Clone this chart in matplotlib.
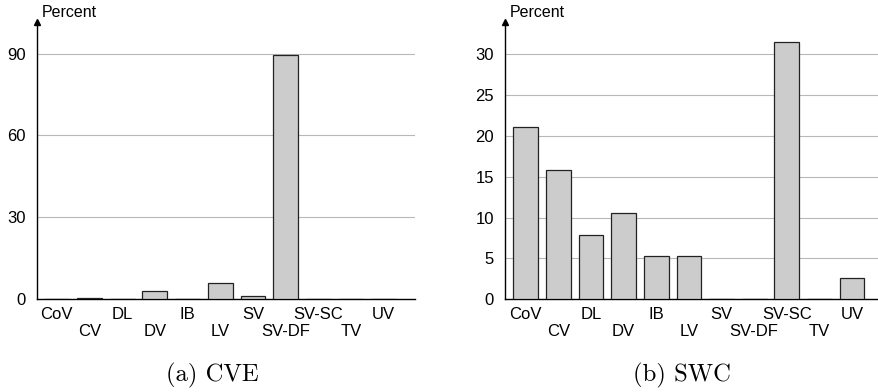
import matplotlib
matplotlib.use("Agg")
import matplotlib.pyplot as plt

categories = ["CoV", "CV", "DL", "DV", "IB", "LV", "SV", "SV-DF", "SV-SC", "TV", "UV"]
cve_values = [0.0, 0.3, 0.0, 2.8, 0.0, 5.9, 1.2, 89.5, 0.0, 0.0, 0.0]
swc_values = [21.05, 15.79, 7.89, 10.53, 5.26, 5.26, 0.0, 0.0, 31.58, 0.0, 2.63]
cve_ticks = [0, 30, 60, 90]
swc_ticks = [0, 5, 10, 15, 20, 25, 30]

plt.rcParams["font.family"] = ["Liberation Sans", "DejaVu Sans"]

fig = plt.figure(figsize=(8.79, 3.92), dpi=100)

def panel(rect, values, ticks, ymax, xlim, caption, cap_x):
    ax = fig.add_axes(rect)
    x = list(range(len(categories)))
    ax.bar(x, values, width=0.76, color="#cccccc", edgecolor="#222222",
           linewidth=0.9, zorder=3)
    ax.set_xlim(*xlim)
    ax.set_ylim(0, ymax)
    ax.set_yticks(ticks)
    ax.set_yticklabels([str(t) for t in ticks], fontsize=12)
    ax.set_xticks(x)
    ax.set_xticklabels(categories, fontsize=12)
    ax.tick_params(axis="both", length=0)
    ax.tick_params(axis="y", pad=8)
    # alternate labels on two rows
    for i, tick in enumerate(ax.xaxis.get_major_ticks()):
        tick.set_pad(5.5 if i % 2 == 0 else 18)
    for t in ticks[1:]:
        ax.axhline(t, color="#b8b8b8", linewidth=0.8, zorder=1)
    ax.spines["top"].set_visible(False)
    ax.spines["right"].set_visible(False)
    ax.spines["left"].set_linewidth(1.0)
    ax.spines["bottom"].set_linewidth(1.0)
    ax.plot(0, 1, marker="^", color="black", markersize=5,
            transform=ax.transAxes, clip_on=False, zorder=5)
    ax.text(0.013, 1.005, "Percent", transform=ax.transAxes, fontsize=11.5,
            ha="left", va="bottom")
    fig.text(cap_x, 0.042, caption, fontsize=17.8, family="cmr10",
             ha="center", va="center")
    return ax

panel([0.0418, 0.2372, 0.430, 0.707], cve_values, cve_ticks, 101.6,
      (-0.615, 10.95), "(a) CVE", 212 / 879)
panel([0.5745, 0.2372, 0.4244, 0.707], swc_values, swc_ticks, 34.0,
      (-0.64, 10.8), "(b) SWC", 682 / 879)

fig.savefig("out.png", dpi=100)
